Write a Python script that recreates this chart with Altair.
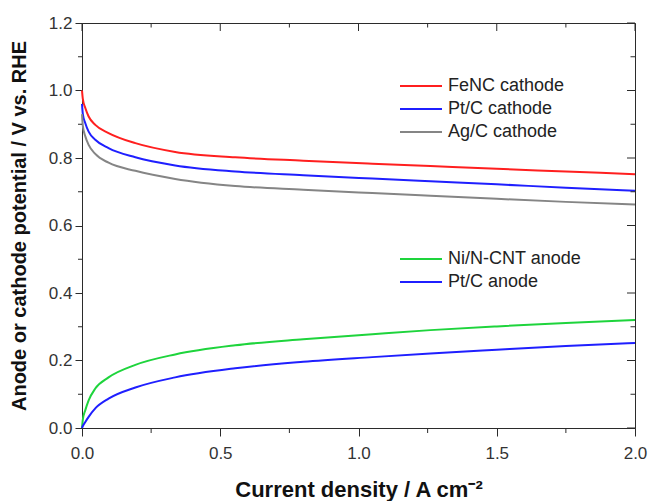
import altair as alt
import pandas as pd

# ---- data ----
x_pts = [0.0, 0.003, 0.012, 0.024, 0.048, 0.096, 0.193, 0.337, 0.554, 0.8, 1.05, 1.26, 1.5, 1.75, 2.0]

fenc_cathode = [1.000, 0.975, 0.948, 0.923, 0.898, 0.874, 0.844, 0.818, 0.802, 0.792, 0.783, 0.776, 0.768, 0.760, 0.752]
ptc_cathode = [0.960, 0.930, 0.903, 0.878, 0.854, 0.829, 0.802, 0.778, 0.760, 0.749, 0.739, 0.731, 0.722, 0.712, 0.703]
agc_cathode = [0.930, 0.895, 0.864, 0.839, 0.812, 0.786, 0.762, 0.738, 0.717, 0.706, 0.696, 0.688, 0.679, 0.670, 0.662]

ninc_anode = [0.000, 0.025, 0.053, 0.082, 0.117, 0.150, 0.187, 0.218, 0.245, 0.263, 0.278, 0.290, 0.301, 0.311, 0.320]
ptc_anode = [0.000, 0.006, 0.018, 0.033, 0.058, 0.087, 0.120, 0.150, 0.177, 0.196, 0.210, 0.221, 0.232, 0.243, 0.252]

cathode_names = ["FeNC cathode", "Pt/C cathode", "Ag/C cathode"]
cathode_colors = ["#ff1f1f", "#1f1fff", "#858585"]
anode_names = ["Ni/N-CNT anode", "Pt/C anode"]
anode_colors = ["#1ed43c", "#1f1fff"]

x_major = [0.0, 0.5, 1.0, 1.5, 2.0]
x_minor = [0.25, 0.75, 1.25, 1.75]
y_major = [0.0, 0.2, 0.4, 0.6, 0.8, 1.0, 1.2]
y_minor = [0.1, 0.3, 0.5, 0.7, 0.9, 1.1]

# ---- tables ----
def long_table(names, series):
    rows = []
    for name, ys in zip(names, series):
        for xv, yv in zip(x_pts, ys):
            rows.append({"x": xv, "y": yv, "series": name})
    return pd.DataFrame(rows)

cat_df = long_table(cathode_names, [fenc_cathode, ptc_cathode, agc_cathode])
an_df = long_table(anode_names, [ninc_anode, ptc_anode])

W, H = 553, 405
FRAME = "#2b2b2b"
FONT = "Liberation Sans"

xscale = alt.Scale(domain=[0, 2], nice=False, zero=False)
yscale = alt.Scale(domain=[0, 1.2], nice=False, zero=False)

xaxis = alt.Axis(
    values=x_major, format=".1f", tickSize=8, tickColor=FRAME, domainColor=FRAME,
    labelPadding=9, labelFontSize=17, labelFont=FONT, labelColor="#333333",
    labelFlush=False, labelOverlap=False,
    grid=False, title="Current density / A cm\u207b\u00b2", titleFontSize=22, titleFont=FONT,
    titleFontWeight="bold", titleColor="#111111", titleY=68, titleBaseline="alphabetic",
)
yaxis = alt.Axis(
    values=y_major, format=".1f", tickSize=7, tickColor=FRAME, domainColor=FRAME,
    labelPadding=3, labelFontSize=17, labelFont=FONT, labelColor="#333333",
    labelFlush=False, labelOverlap=False,
    grid=False, title="Anode or cathode potential / V vs. RHE", titleFontSize=20,
    titleFont=FONT, titleFontWeight="bold", titleColor="#111111",
    titleX=-57, titleBaseline="alphabetic",
)

def legend(x, y):
    return alt.Legend(
        title=None, orient="none", legendX=x, legendY=y, padding=0,
        symbolType="M-3,0L3,0", symbolSize=196, symbolStrokeWidth=2,
        labelFontSize=18, labelFont=FONT, labelColor="#222222",
        rowPadding=5, labelOffset=18,
    )

cat_lines = alt.Chart(cat_df).mark_line(strokeWidth=2, interpolate="monotone").encode(
    x=alt.X("x:Q", scale=xscale, axis=xaxis),
    y=alt.Y("y:Q", scale=yscale, axis=yaxis),
    color=alt.Color("series:N", scale=alt.Scale(domain=cathode_names, range=cathode_colors),
                    legend=legend(330, 54), sort=cathode_names),
)
an_lines = alt.Chart(an_df).mark_line(strokeWidth=2, interpolate="monotone").encode(
    x=alt.X("x:Q", scale=xscale, axis=xaxis),
    y=alt.Y("y:Q", scale=yscale, axis=yaxis),
    color=alt.Color("series:N", scale=alt.Scale(domain=anode_names, range=anode_colors),
                    legend=legend(330, 227), sort=anode_names),
)

xmaj_df = pd.DataFrame({"x": x_major})
xmin_df = pd.DataFrame({"x": x_minor})
ymaj_df = pd.DataFrame({"y": y_major})
ymin_df = pd.DataFrame({"y": y_minor})

def xticks(df, y0, y1):
    return alt.Chart(df).mark_rule(color=FRAME, strokeWidth=1).encode(
        x=alt.X("x:Q", scale=xscale, axis=xaxis), y=alt.value(y0), y2=alt.value(y1))

def yticks(df, x0, x1):
    return alt.Chart(df).mark_rule(color=FRAME, strokeWidth=1).encode(
        y=alt.Y("y:Q", scale=yscale, axis=yaxis), x=alt.value(x0), x2=alt.value(x1))

ticks = [
    xticks(xmin_df, H, H + 5),      # bottom minor, outward
    xticks(xmaj_df, 0, 8),          # top major, inward
    xticks(xmin_df, 0, 4.5),        # top minor, inward
    yticks(ymin_df, -4, 0),         # left minor, outward
    yticks(ymaj_df, W - 8, W),      # right major, inward
    yticks(ymin_df, W - 4.5, W),    # right minor, inward
]

chart = alt.layer(cat_lines, an_lines, *ticks).resolve_scale(color="independent").properties(
    width=W, height=H,
    autosize=alt.AutoSizeParams(type="none"),
    padding={"left": 82, "top": 23, "right": 14, "bottom": 73},
    background="white",
).configure_view(stroke=FRAME, strokeWidth=1)

chart.save("out.html", embed_options={"renderer": "svg", "actions": False})
